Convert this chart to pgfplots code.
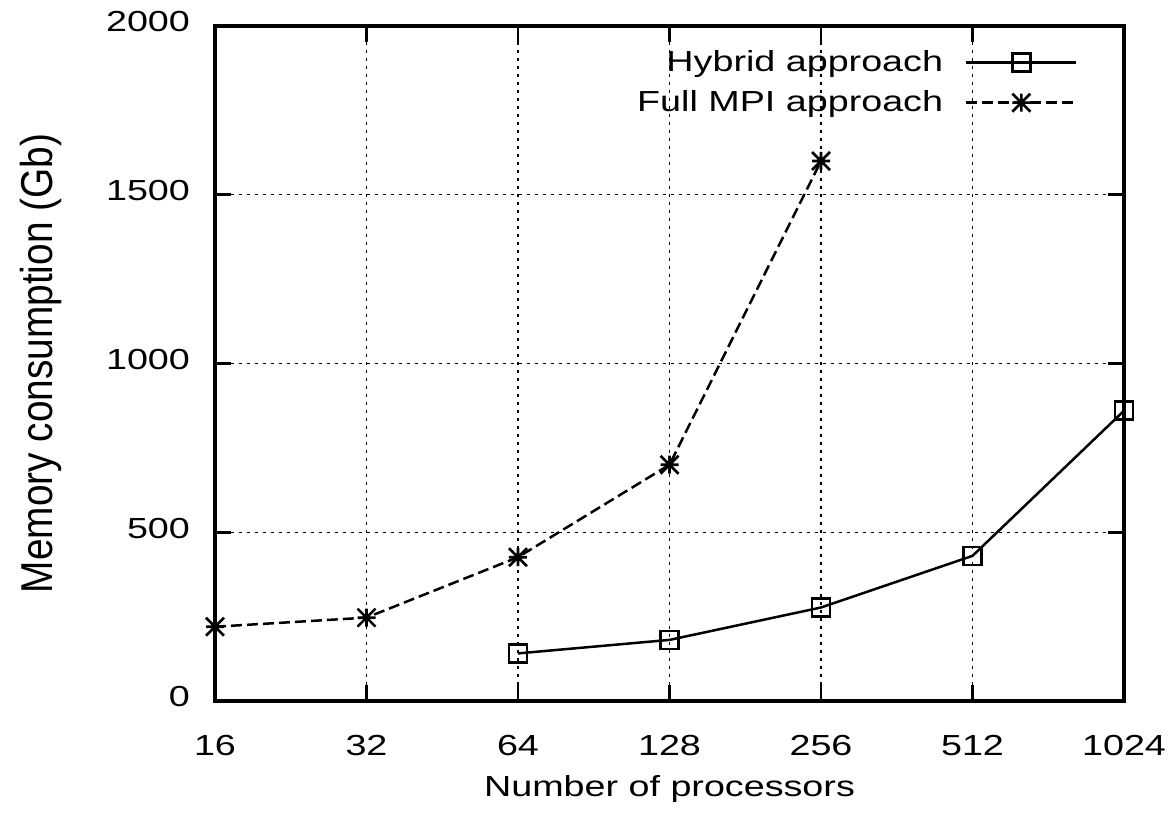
\documentclass[border=0pt]{standalone}
\usepackage{fontspec}
\setmainfont[FakeStretch=1.3]{Liberation Sans}
\newfontfamily\ylabfont{Liberation Sans}
\usepackage{graphicx}
\usepackage{pgfplots}
\usepackage{pgfplotstable}
\pgfplotsset{compat=1.18}

% gnuplot-style asterisk: a plus and a cross on top of each other
\pgfdeclareplotmark{plusx}{%
  \pgfpathmoveto{\pgfqpoint{-\pgfplotmarksize}{0pt}}%
  \pgfpathlineto{\pgfqpoint{\pgfplotmarksize}{0pt}}%
  \pgfpathmoveto{\pgfqpoint{0pt}{-\pgfplotmarksize}}%
  \pgfpathlineto{\pgfqpoint{0pt}{\pgfplotmarksize}}%
  \pgfpathmoveto{\pgfqpoint{-\pgfplotmarksize}{-\pgfplotmarksize}}%
  \pgfpathlineto{\pgfqpoint{\pgfplotmarksize}{\pgfplotmarksize}}%
  \pgfpathmoveto{\pgfqpoint{-\pgfplotmarksize}{\pgfplotmarksize}}%
  \pgfpathlineto{\pgfqpoint{\pgfplotmarksize}{-\pgfplotmarksize}}%
  \pgfusepathqstroke}

\newcommand\lblfont{\fontsize{14.5}{17}\selectfont}

% memory use (Gb) against number of processors
\pgfplotstableread{
procs mem
64   141
128  181
256  277
512  430
1024 860
}\hybrid
\pgfplotstableread{
procs mem
16  220
32  247
64  426
128 700
256 1600
}\fullmpi

\begin{document}
\begin{tikzpicture}
\begin{axis}[
  name=ax,
  scale only axis,
  width=454.5pt, height=337.5pt,
  xmode=log, log basis x=2,
  xmin=16, xmax=1024, ymin=0, ymax=2000,
  xtick={16,32,64,128,256,512,1024},
  xticklabels={16,32,64,128,256,512,1024},
  ytick={0,500,1000,1500,2000},
  /pgf/number format/.cd, 1000 sep={}, assume math mode=true, /pgfplots/.cd,
  grid=major,
  major grid style={black, line width=0.65pt, dash pattern=on 1.5pt off 2.5pt},
  axis line style={line width=1.7pt},
  tick style={line width=1.3pt, black},
  major tick length=8pt,
  tick align=inside,
  tick label style={font=\lblfont},
  xticklabel style={yshift=-13.5pt},
  yticklabel style={xshift=-9pt, yshift=2pt},
  xlabel={Number of processors},
  xlabel style={font=\lblfont, at={(axis description cs:0.5,0)}, anchor=base, yshift=-48pt},
  ylabel={\ylabfont\fontsize{19.4}{22}\selectfont\scalebox{1}[1.15]{Memory consumption (Gb)}},
  ylabel style={at={(axis description cs:-0.1793,0.5)}, anchor=base, rotate=0},
  legend plot pos=right,
  legend cell align=right,
  legend image code/.code={\draw[mark repeat=2,mark phase=2,#1] plot coordinates {(0pt,0pt) (27.5pt,0pt) (55pt,0pt)};},
  legend style={draw=none, fill=none, font=\lblfont, at={(axis description cs:0.9494,0.97)}, anchor=north east, inner sep=0pt, row sep=4pt, column sep=9pt},
]
\addplot[black, line width=1.25pt, mark=square, mark size=4.5pt, mark options={solid, line width=1.3pt}]
  table[x=procs, y=mem] {\hybrid};
\addlegendentry{Hybrid approach}
\addplot[black, line width=1.25pt, dash pattern=on 5.5pt off 2.5pt, mark=plusx, mark size=4.5pt, mark options={solid, line width=1.3pt}]
  table[x=procs, y=mem] {\fullmpi};
\addlegendentry{Full MPI approach}
\end{axis}
\pgfresetboundingbox
\path ([shift={(-107.5pt,-58.5pt)}]ax.south west) rectangle ([shift={(23.5pt,13pt)}]ax.north east);
\end{tikzpicture}
\end{document}
